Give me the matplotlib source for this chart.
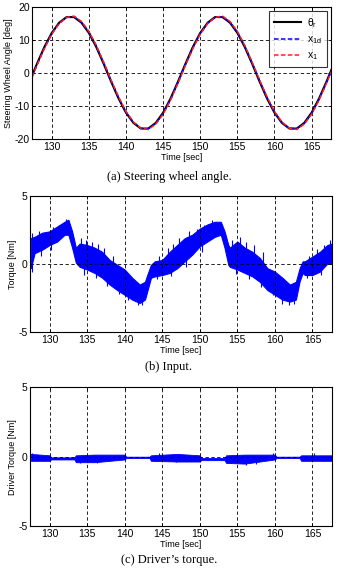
import matplotlib.pyplot as plt
import numpy as np

# (a) steering wheel angle, read every second
t_angle = list(range(127, 169))
theta_r = [-2.7, 2.7, 7.8, 12.1, 15.2, 16.9, 16.9, 15.2, 12.1, 7.8, 2.7,
           -2.7, -7.8, -12.1, -15.2, -16.9, -16.9, -15.2, -12.1, -7.8, -2.7,
           2.7, 7.8, 12.1, 15.2, 16.9, 16.9, 15.2, 12.1, 7.8, 2.7,
           -2.7, -7.8, -12.1, -15.2, -16.9, -16.9, -15.2, -12.1, -7.8, -2.7, 2.7]
x_1d = [-3.0, 2.4, 7.5, 11.9, 15.0, 16.8, 17.0, 15.4, 12.4, 8.1, 3.0,
        -2.4, -7.5, -11.9, -15.0, -16.8, -17.0, -15.4, -12.4, -8.1, -3.0,
        2.4, 7.5, 11.9, 15.0, 16.8, 17.0, 15.4, 12.4, 8.1, 3.0,
        -2.4, -7.5, -11.9, -15.0, -16.8, -17.0, -15.4, -12.4, -8.1, -3.0, 2.4]
x_1 = [-3.3, 2.2, 7.3, 11.7, 14.9, 16.8, 17.2, 15.6, 12.6, 8.3, 3.2,
       -2.2, -7.3, -11.7, -14.9, -16.8, -17.2, -15.6, -12.6, -8.3, -3.2,
       2.2, 7.3, 11.7, 14.9, 16.8, 17.2, 15.6, 12.6, 8.3, 3.2,
       -2.2, -7.3, -11.7, -14.9, -16.8, -17.2, -15.6, -12.6, -8.3, -3.2, 2.2]

# (b) input torque band (upper / lower edge of the noisy trace)
t_input = [127.5, 128, 129, 130, 131, 132, 132.5, 133, 133.5, 134, 135, 136,
           137, 138, 139, 140, 141, 142, 142.7, 143, 143.5, 144, 145, 146,
           147, 148, 149, 150, 151, 152, 152.8, 153.3, 153.8, 154, 155, 156,
           157, 158, 159, 160, 161, 162, 162.8, 163.3, 163.7, 164, 165, 166,
           167, 167.6]
input_hi = [1.9, 2.0, 2.3, 2.4, 2.75, 3.1, 3.25, 2.4, 1.2, 1.5, 1.4, 1.2,
            0.9, 0.3, -0.05, -0.4, -1.0, -1.5, -1.3, -0.8, -0.05, 0.2, 0.3, 0.9,
            1.4, 1.9, 2.15, 2.6, 2.9, 3.1, 3.1, 2.4, 1.4, 1.2, 1.65, 1.2,
            0.9, 0.45, -0.3, -0.55, -1.0, -1.5, -1.3, -0.3, 0.2, 0.2, 0.55, 0.9,
            1.4, 1.5]
input_lo = [-0.3, 0.8, 1.05, 1.4, 1.65, 2.15, 2.15, 1.2, 0.1, -0.2, -0.4, -0.65,
            -1.0, -1.5, -1.9, -2.25, -2.6, -2.85, -2.6, -2.0, -1.0, -0.9, -0.8, -0.65,
            -0.3, 0.2, 0.7, 1.3, 1.65, 2.0, 2.15, 1.2, -0.05, -0.2, -0.4, -0.65,
            -0.9, -1.3, -1.9, -2.25, -2.6, -2.75, -2.6, -1.25, -0.65, -0.8, -0.8, -0.55,
            0.05, 0.05]
# isolated spikes sticking out of the band
t_spike = [127.7, 128.6, 130.4, 131.3, 132.2, 134.2, 134.8, 135.6, 136.5, 137.3,
           138.4, 144.6, 145.8, 146.4, 147.2, 148.5, 149.6, 150.5, 151.6, 154.3,
           155.3, 156.2, 157.2, 158.4, 164.6, 165.6, 166.5, 167.3,
           127.6, 128.9, 130.2, 134.6, 136.2, 137.7, 139.2, 140.4, 141.8, 142.3,
           144.3, 146.2, 148.1, 150.3, 154.8, 156.6, 158.2, 159.7, 161.0, 161.9,
           162.6, 164.3, 166.1]
spike_val = [2.3, 2.4, 2.7, 2.9, 3.3, 1.9, 1.8, 1.6, 1.5, 1.2,
             0.6, 0.6, 1.2, 1.5, 1.9, 2.4, 2.6, 2.9, 3.2, 1.8,
             2.0, 1.6, 1.4, 0.9, 0.6, 1.1, 1.4, 1.8,
             -0.6, 0.6, 1.0, -0.8, -1.0, -1.6, -2.2, -2.6, -3.0, -3.0,
             -1.1, -0.9, -0.2, 0.9, -0.7, -1.1, -1.7, -2.3, -2.9, -3.0,
             -2.9, -1.0, -0.8]

# (c) driver's torque band
t_driver = [127.5, 130, 130.2, 133.3, 133.5, 136, 140, 140.2, 143.3, 143.5,
            147, 150, 150.2, 153.3, 153.5, 156, 160, 160.2, 163.3, 163.5, 167.6]
driver_hi = [0.2, 0.1, -0.05, -0.05, 0.1, 0.15, 0.15, 0.0, 0.0, 0.1,
             0.2, 0.1, -0.1, -0.1, 0.1, 0.15, 0.15, 0.0, 0.0, 0.1, 0.1]
driver_lo = [-0.3, -0.3, -0.2, -0.2, -0.4, -0.4, -0.2, -0.1, -0.1, -0.3,
             -0.35, -0.35, -0.25, -0.25, -0.45, -0.5, -0.2, -0.1, -0.1, -0.3, -0.3]
t_dspike = [127.7, 134.0, 136.3, 144.6, 146.8, 154.2, 156.2, 157.5, 159.8, 165.2]
dspike_val = [0.3, -0.45, -0.45, 0.25, -0.4, -0.45, -0.6, -0.5, 0.25, 0.25]

ticks_t = [130, 135, 140, 145, 150, 155, 160, 165]

plt.rcParams['font.family'] = ['Liberation Sans', 'DejaVu Sans']
plt.rcParams['font.size'] = 6.5
plt.rcParams['axes.unicode_minus'] = False
plt.rcParams['mathtext.fontset'] = 'custom'
plt.rcParams['mathtext.rm'] = 'Liberation Sans'
plt.rcParams['mathtext.it'] = 'Liberation Sans'


def style_axes(ax, ylim, yticks, ylabel):
    ax.set_xlim(127.4, 167.6)
    ax.set_ylim(*ylim)
    ax.set_xticks(ticks_t)
    ax.set_yticks(yticks)
    ax.tick_params(direction='in', top=True, right=True, length=2.5, width=0.6,
                   pad=2, labelsize=7.5)
    ax.grid(True, color='k', linestyle=(0, (4, 3)), linewidth=0.6)
    for s in ax.spines.values():
        s.set_linewidth(0.8)
    ax.set_xlabel('Time [sec]', labelpad=1)
    ax.set_ylabel(ylabel, labelpad=1)


def draw_band(ax, t, lo, hi, ts, vs, lw):
    ax.fill_between(t, lo, hi, color='#0000ff', lw=lw, edgecolor='#0000ff')
    mid = (np.interp(ts, t, lo) + np.interp(ts, t, hi)) / 2
    ax.vlines(ts, mid, vs, color='#0000ff', lw=0.8)


fig = plt.figure(figsize=(3.38, 5.71), dpi=100)

ax1 = fig.add_axes([0.096, 0.757, 0.883, 0.231])
ax1.plot(t_angle, theta_r, color='k', lw=1.5, label=r'$\theta_r$')
ax1.plot(t_angle, x_1d, color='#0000ff', lw=1.1, ls=(0, (3, 1.5)), label=r'x$_{1d}$')
ax1.plot(t_angle, x_1, color='#ff2020', lw=1.1, ls=(0, (3, 1.5)), label=r'x$_1$')
style_axes(ax1, (-20, 20), [-20, -10, 0, 10, 20], 'Steering Wheel Angle [deg]')
leg = ax1.legend(loc='upper right', fontsize=7.5, frameon=True, fancybox=False,
                 edgecolor='k', handlelength=2.6, borderpad=0.45, labelspacing=0.45,
                 borderaxespad=0.4, handletextpad=0.6)
leg.get_frame().set_linewidth(0.8)

ax2 = fig.add_axes([0.089, 0.418, 0.893, 0.239])
draw_band(ax2, t_input, input_lo, input_hi, t_spike, spike_val, 0.8)
style_axes(ax2, (-5, 5), [-5, 0, 5], 'Torque [Nm]')

ax3 = fig.add_axes([0.089, 0.079, 0.893, 0.2424])
draw_band(ax3, t_driver, driver_lo, driver_hi, t_dspike, dspike_val, 0.6)
style_axes(ax3, (-5, 5), [-5, 0, 5], 'Driver Torque [Nm]')

cap = dict(family=['Liberation Serif', 'DejaVu Serif'], fontsize=9, ha='center', va='center')
fig.text(0.5, 1 - 177 / 571, '(a) Steering wheel angle.', **cap)
fig.text(0.5, 1 - 367 / 571, '(b) Input.', **cap)
fig.text(0.5, 1 - 560 / 571, '(c) Driver\u2019s torque.', **cap)

fig.savefig('out.png', dpi=100)
